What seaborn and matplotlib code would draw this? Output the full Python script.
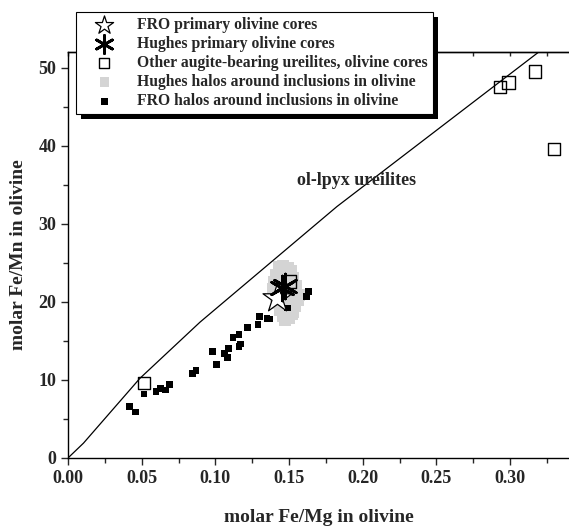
import numpy as np
import pandas as pd
import seaborn as sns
import matplotlib.pyplot as plt
from matplotlib.ticker import MultipleLocator, NullFormatter
from matplotlib.patches import Rectangle

# FRO halos around inclusions in olivine
fro_halo_x = [0.0417, 0.0457, 0.0516, 0.0597, 0.0627, 0.0659, 0.0688, 0.0846, 0.0869,
              0.098, 0.101, 0.106, 0.109, 0.108, 0.112, 0.116, 0.117, 0.116, 0.122,
              0.129, 0.130, 0.135, 0.137, 0.149, 0.162, 0.163]
fro_halo_y = [6.6, 5.9, 8.2, 8.5, 8.9, 8.7, 9.4, 10.8, 11.2,
              13.6, 12.0, 13.4, 14.0, 12.9, 15.4, 15.8, 14.6, 14.3, 16.7,
              17.1, 18.1, 17.9, 17.8, 19.2, 20.7, 21.3]

# Hughes halos around inclusions in olivine
hughes_halo_x = [0.143, 0.146, 0.149, 0.151,
                 0.141, 0.144, 0.147, 0.150, 0.153,
                 0.140, 0.143, 0.146, 0.149, 0.152, 0.155,
                 0.139, 0.142, 0.145, 0.148, 0.151, 0.154, 0.157,
                 0.141, 0.144, 0.147, 0.150, 0.153, 0.156,
                 0.142, 0.145, 0.148, 0.151, 0.154,
                 0.144, 0.147, 0.150, 0.153,
                 0.146, 0.149, 0.152,
                 0.147, 0.150]
hughes_halo_y = [24.5, 24.6, 24.3, 24.0,
                 23.4, 23.6, 23.8, 23.5, 23.0,
                 22.6, 22.8, 22.9, 22.7, 22.4, 22.0,
                 21.6, 21.8, 21.9, 21.7, 21.5, 21.2, 20.9,
                 20.7, 20.8, 21.0, 20.6, 20.4, 20.2,
                 19.8, 19.6, 19.9, 19.7, 19.5,
                 18.9, 18.8, 19.0, 18.7,
                 18.2, 18.1, 18.4,
                 17.7, 17.9]

# other augite-bearing ureilites, olivine cores
other_x = [0.0516, 0.1506, 0.293, 0.299, 0.317, 0.330]
other_y = [9.6, 22.6, 47.5, 48.1, 49.5, 39.6]

fro_core_x = [0.142]
fro_core_y = [20.5]
hughes_core_x = [0.145, 0.147]
hughes_core_y = [21.8, 22.0]

# ol-lpyx ureilites trend
trend_x = [0.0, 0.0105, 0.0488, 0.0896, 0.1825, 0.3195, 0.34]
trend_y = [0.0, 1.9, 10.2, 17.4, 32.2, 52.0, 52.0]

sns.set_style("ticks")
plt.rcParams['font.family'] = ['Liberation Serif', 'DejaVu Serif']
plt.rcParams['font.weight'] = 'bold'

fig = plt.figure(figsize=(5.69, 5.26), dpi=100)
ax = fig.add_axes([0.1195, 0.1293, 0.8805, 0.7719])

sns.lineplot(x=trend_x, y=trend_y, ax=ax, color='black', lw=0.9, sort=False)

sns.scatterplot(x=hughes_halo_x, y=hughes_halo_y, ax=ax, marker='s', s=75,
                color='#d4d4d4', edgecolor='none',
                label='Hughes halos around inclusions in olivine')
sns.scatterplot(x=fro_halo_x, y=fro_halo_y, ax=ax, marker='s', s=24,
                color='black', edgecolor='none',
                label='FRO halos around inclusions in olivine')
sns.scatterplot(x=other_x, y=other_y, ax=ax, marker='s', s=80,
                facecolor='none', edgecolor='black', linewidth=1.0,
                label='Other augite-bearing ureilites, olivine cores')
sns.scatterplot(x=fro_core_x, y=fro_core_y, ax=ax, marker='*', s=480,
                facecolor='white', edgecolor='black', linewidth=0.9,
                label='FRO primary olivine cores')
sns.scatterplot(x=hughes_core_x, y=hughes_core_y, ax=ax, marker=(6, 2, 0), s=320,
                color='black', linewidth=2.0,
                label='Hughes primary olivine cores')

ax.text(0.1955, 35.6, 'ol-lpyx ureilites', fontsize=13, fontweight='bold',
        ha='center', va='center')

ax.set_xlim(0, 0.34)
ax.set_ylim(0, 52)
ax.xaxis.set_major_locator(MultipleLocator(0.05))
ax.xaxis.set_minor_locator(MultipleLocator(0.025))
ax.yaxis.set_major_locator(MultipleLocator(10))
ax.yaxis.set_minor_locator(MultipleLocator(5))
ax.set_xticklabels([f'{v:.2f}' for v in ax.get_xticks()])
ax.tick_params(which='both', direction='out', width=1.0, labelsize=13)
ax.tick_params(which='major', length=5)
ax.tick_params(which='minor', length=3.5)
ax.spines['right'].set_visible(False)
for s in ['left', 'bottom', 'top']:
    ax.spines[s].set_linewidth(1.0)
    ax.spines[s].set_color('black')

top = ax.secondary_xaxis('top')
top.xaxis.set_major_locator(MultipleLocator(0.025))
top.xaxis.set_major_formatter(NullFormatter())
top.tick_params(direction='in', length=3, width=1.0)
top.spines['top'].set_linewidth(1.0)

ax.set_xlabel('molar Fe/Mg in olivine', fontsize=14, fontweight='bold', labelpad=16)
ax.set_ylabel('molar Fe/Mn in olivine', fontsize=14, fontweight='bold', labelpad=8)

handles, labels = ax.get_legend_handles_labels()
order = ['FRO primary olivine cores', 'Hughes primary olivine cores',
         'Other augite-bearing ureilites, olivine cores',
         'Hughes halos around inclusions in olivine',
         'FRO halos around inclusions in olivine']
hmap = dict(zip(labels, handles))
leg = ax.legend([hmap[k] for k in order], order, loc='upper left',
                bbox_to_anchor=(0.1336, 0.977), bbox_transform=fig.transFigure,
                frameon=True, fancybox=False, edgecolor='black', framealpha=1,
                prop={'weight': 'bold', 'size': 11.3}, handletextpad=0.6,
                labelspacing=0.2, borderpad=0.3, borderaxespad=0,
                handlelength=3.0)
leg.get_frame().set_linewidth(0.8)
for h, sz in zip(leg.legend_handles, [190, 170, 50, 45, 24]):
    h.set_sizes([sz])

# thick black drop shadow under the legend box
fig.canvas.draw()
bb = leg.get_window_extent()
shadow = Rectangle((bb.x0 + 5, bb.y0 - 5), bb.width, bb.height, transform=None,
                   facecolor='black', edgecolor='none', clip_on=False,
                   zorder=leg.get_zorder() - 0.1)
ax.add_artist(shadow)

fig.savefig('out.png', dpi=100)
